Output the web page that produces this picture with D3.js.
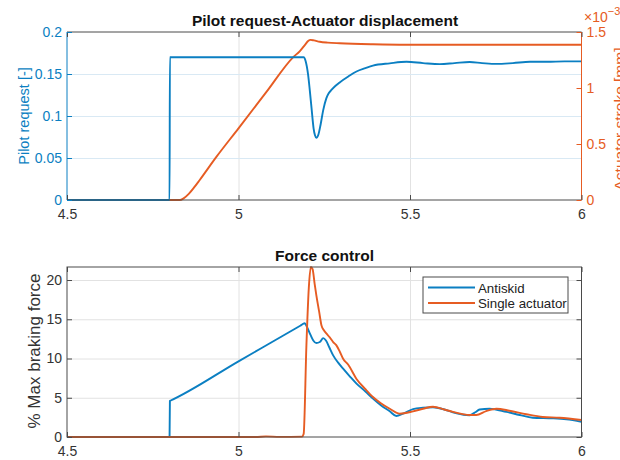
<!DOCTYPE html>
<html><head><meta charset="utf-8">
<script src="https://cdn.jsdelivr.net/npm/d3@7"></script>
<style>
html,body{margin:0;padding:0;background:#fff;}
svg{display:block;font-family:"Liberation Sans",Arial,Helvetica,sans-serif;}
</style></head>
<body>
<svg id="chart" width="620" height="460"></svg>
<script>
// ---------- data ----------
const xTicks = [4.5, 5, 5.5, 6];
const pilotTicks = [0, 0.05, 0.1, 0.15, 0.2];
const strokeTicks = [0, 0.5, 1, 1.5];      // x 10^-3 mm
const forceTicks = [0, 5, 10, 15, 20];

const pilotT = [4.5, 4.799, 4.8, 4.801, 5.189, 5.19, 5.196, 5.203, 5.208, 5.213, 5.219, 5.223, 5.227, 5.233, 5.239, 5.247, 5.256, 5.263, 5.271, 5.283, 5.295, 5.32, 5.344, 5.37, 5.392, 5.441, 5.49, 5.538, 5.587, 5.63, 5.674, 5.71, 5.752, 5.8, 5.85, 5.9, 5.95, 6.0];
const pilotV = [0, 0, 0.17, 0.17, 0.17, 0.17, 0.165, 0.149, 0.13, 0.109, 0.085, 0.077, 0.074, 0.078, 0.089, 0.107, 0.121, 0.127, 0.131, 0.136, 0.140, 0.147, 0.153, 0.157, 0.160, 0.1627, 0.1645, 0.163, 0.1618, 0.163, 0.1642, 0.163, 0.162, 0.163, 0.1645, 0.1645, 0.165, 0.165];

const strokeT = [4.5, 4.829, 4.84, 4.855, 4.87, 4.887, 4.936, 5.0, 5.082, 5.159, 5.179, 5.195, 5.203, 5.21, 5.22, 5.237, 5.26, 5.295, 5.392, 5.49, 6.0];
const strokeV = [0, 0, 0.015, 0.055, 0.11, 0.179, 0.387, 0.64, 0.967, 1.274, 1.33, 1.39, 1.42, 1.43, 1.425, 1.413, 1.405, 1.399, 1.39, 1.386, 1.386];

const series = ["Antiskid", "Single actuator"];

const antiskidT = [4.5, 4.799, 4.8, 4.801, 5.0, 5.18, 5.193, 5.2, 5.21, 5.218, 5.227, 5.237, 5.247, 5.255, 5.265, 5.276, 5.29, 5.305, 5.325, 5.344, 5.37, 5.392, 5.415, 5.441, 5.46, 5.48, 5.509, 5.538, 5.567, 5.6, 5.625, 5.664, 5.674, 5.69, 5.703, 5.732, 5.781, 5.82, 5.858, 5.917, 5.956, 6.0];
const antiskidV = [0, 0, 4.6, 4.62, 9.64, 14.17, 14.5, 14.0, 13.0, 12.3, 11.97, 12.1, 12.6, 12.3, 11.4, 10.4, 9.5, 8.7, 7.7, 6.8, 5.8, 4.9, 4.05, 3.27, 2.68, 2.97, 3.55, 3.73, 3.8, 3.5, 3.14, 2.8, 2.78, 3.15, 3.5, 3.6, 3.2, 2.8, 2.46, 2.38, 2.25, 1.95];

const singleT = [4.5, 5.05, 5.08, 5.12, 5.185, 5.19, 5.198, 5.205, 5.211, 5.216, 5.222, 5.227, 5.235, 5.242, 5.249, 5.256, 5.266, 5.276, 5.285, 5.295, 5.305, 5.32, 5.344, 5.37, 5.392, 5.415, 5.441, 5.47, 5.509, 5.538, 5.567, 5.6, 5.625, 5.674, 5.693, 5.722, 5.752, 5.79, 5.839, 5.887, 5.936, 6.0];
const singleV = [0, 0, 0.08, 0.02, 0.05, 0.4, 11.7, 19.0, 21.66, 21.4, 19.5, 18.05, 16.0, 14.2, 13.6, 13.2, 12.7, 12.1, 11.7, 10.9, 9.97, 9.2, 7.4, 6.1, 5.1, 4.3, 3.6, 2.97, 3.27, 3.6, 3.86, 3.5, 3.2, 2.8, 2.8, 3.3, 3.6, 3.35, 2.9, 2.55, 2.46, 2.17];

// ---------- style ----------
const BLUE = "#0b7fc2", ORANGE = "#e65c23", AXIS = "#4a4a4a", TXT = "#333", GRID = "#e2e2e2", GRIDB = "#d9e9f4";
const FONT = 14, TITLE = 15.5;

const svg = d3.select("#chart");
const L = 67, R = 581.5;
const x1 = d3.scaleLinear().domain([4.5, 6]).range([L, R]);
const top1 = 32, bot1 = 200, top2 = 267, bot2 = 437;
const yPilot = d3.scaleLinear().domain([0, 0.2]).range([bot1, top1]);
const yStroke = d3.scaleLinear().domain([0, 1.5]).range([bot1, top1]);
const yForce = d3.scaleLinear().domain([0, 21.66]).range([bot2, top2]);
const fmt = d => String(d);

function grid(g, scaleX, scaleY, top, bot, colX, colY, yt) {
  g.append("g").attr("transform", `translate(0,${bot})`)
    .call(d3.axisBottom(scaleX).tickValues(xTicks.slice(1, -1)).tickSize(-(bot - top)).tickFormat(""))
    .call(s => s.select(".domain").remove())
    .call(s => s.selectAll("line").attr("stroke", colX).attr("stroke-width", 1));
  g.append("g").attr("transform", `translate(${L},0)`)
    .call(d3.axisLeft(scaleY).tickValues(yt).tickSize(-(R - L)).tickFormat(""))
    .call(s => s.select(".domain").remove())
    .call(s => s.selectAll("line").attr("stroke", colY).attr("stroke-width", 1));
}

function styleAxis(s, col, txtCol) {
  s.select(".domain").remove();
  s.selectAll("line").attr("stroke", col).attr("stroke-width", 1);
  s.selectAll("text").attr("fill", txtCol).attr("font-size", FONT).attr("font-family", null);
}

const zip = (a, b) => a.map((v, i) => [v, b[i]]);
const line = (xs, ys) => d3.line().curve(d3.curveMonotoneX).x(d => xs(d[0])).y(d => ys(d[1]));

// ---------- top panel ----------
const p1 = svg.append("g");
grid(p1, x1, yPilot, top1, bot1, GRID, GRIDB, pilotTicks.slice(1, -1));

p1.append("path").datum(zip(strokeT, strokeV)).attr("d", line(x1, yStroke))
  .attr("fill", "none").attr("stroke", ORANGE).attr("stroke-width", 1.9).attr("stroke-linejoin", "round");
p1.append("path").datum(zip(pilotT, pilotV)).attr("d", line(x1, yPilot))
  .attr("fill", "none").attr("stroke", BLUE).attr("stroke-width", 1.9).attr("stroke-linejoin", "round");

// frame
p1.append("line").attr("x1", L).attr("x2", R).attr("y1", top1).attr("y2", top1).attr("stroke", AXIS);
p1.append("line").attr("x1", L).attr("x2", R).attr("y1", bot1).attr("y2", bot1).attr("stroke", AXIS);
p1.append("line").attr("x1", L).attr("x2", L).attr("y1", top1).attr("y2", bot1).attr("stroke", BLUE);
p1.append("line").attr("x1", R).attr("x2", R).attr("y1", top1).attr("y2", bot1).attr("stroke", ORANGE);

p1.append("g").attr("transform", `translate(0,${bot1})`)
  .call(d3.axisBottom(x1).tickValues(xTicks).tickSize(-5).tickPadding(9).tickFormat(fmt))
  .call(s => styleAxis(s, AXIS, TXT));
p1.append("g").attr("transform", `translate(0,${top1})`)
  .call(d3.axisTop(x1).tickValues(xTicks).tickSize(-5).tickFormat(""))
  .call(s => styleAxis(s, AXIS, TXT));
p1.append("g").attr("transform", `translate(${L},0)`)
  .call(d3.axisLeft(yPilot).tickValues(pilotTicks).tickSize(-5).tickPadding(5).tickFormat(fmt))
  .call(s => styleAxis(s, BLUE, BLUE));
p1.append("g").attr("transform", `translate(${R},0)`)
  .call(d3.axisRight(yStroke).tickValues(strokeTicks).tickSize(-5).tickPadding(5).tickFormat(fmt))
  .call(s => styleAxis(s, ORANGE, ORANGE));

p1.append("text").attr("x", 325).attr("y", 26).attr("text-anchor", "middle")
  .attr("font-weight", "bold").attr("font-size", TITLE).attr("fill", "#111")
  .text("Pilot request-Actuator displacement");
p1.append("text").attr("transform", "translate(29,116) rotate(-90)").attr("text-anchor", "middle")
  .attr("font-size", 14.5).attr("fill", BLUE).text("Pilot request [-]");
p1.append("text").attr("transform", "translate(624.5,119) rotate(-90)").attr("text-anchor", "middle")
  .attr("font-size", 15.5).attr("fill", ORANGE).text("Actuator stroke [mm]");
const exp = p1.append("text").attr("x", 584).attr("y", 22).attr("font-size", FONT).attr("fill", ORANGE);
exp.append("tspan").text("\u00d710");
exp.append("tspan").attr("dy", -7).attr("font-size", 11).text("\u22123");

// ---------- bottom panel ----------
const p2 = svg.append("g");
grid(p2, x1, yForce, top2, bot2, GRID, GRID, forceTicks.slice(1));

const cols = [BLUE, ORANGE];
p2.append("path").datum(zip(antiskidT, antiskidV)).attr("d", line(x1, yForce))
  .attr("fill", "none").attr("stroke", BLUE).attr("stroke-width", 1.9).attr("stroke-linejoin", "round");
p2.append("path").datum(zip(singleT, singleV)).attr("d", line(x1, yForce))
  .attr("fill", "none").attr("stroke", ORANGE).attr("stroke-width", 1.9).attr("stroke-linejoin", "round");

p2.append("rect").attr("x", L).attr("y", top2).attr("width", R - L).attr("height", bot2 - top2)
  .attr("fill", "none").attr("stroke", AXIS);

p2.append("g").attr("transform", `translate(0,${bot2})`)
  .call(d3.axisBottom(x1).tickValues(xTicks).tickSize(-5).tickPadding(9).tickFormat(fmt))
  .call(s => styleAxis(s, AXIS, TXT));
p2.append("g").attr("transform", `translate(0,${top2})`)
  .call(d3.axisTop(x1).tickValues(xTicks).tickSize(-5).tickFormat(""))
  .call(s => styleAxis(s, AXIS, TXT));
p2.append("g").attr("transform", `translate(${L},0)`)
  .call(d3.axisLeft(yForce).tickValues(forceTicks).tickSize(-5).tickPadding(5).tickFormat(fmt))
  .call(s => styleAxis(s, AXIS, TXT));
p2.append("g").attr("transform", `translate(${R},0)`)
  .call(d3.axisRight(yForce).tickValues(forceTicks).tickSize(-5).tickFormat(""))
  .call(s => styleAxis(s, AXIS, TXT));

p2.append("text").attr("x", 324.5).attr("y", 261).attr("text-anchor", "middle")
  .attr("font-weight", "bold").attr("font-size", TITLE).attr("fill", "#111").text("Force control");
p2.append("text").attr("transform", "translate(40,351) rotate(-90)").attr("text-anchor", "middle")
  .attr("font-size", 17).attr("fill", TXT).text("% Max braking force");

// legend
const lg = p2.append("g");
lg.append("rect").attr("x", 423).attr("y", 277).attr("width", 145).attr("height", 36)
  .attr("fill", "#fff").attr("stroke", AXIS);
series.forEach((name, i) => {
  const yy = 287.5 + i * 15.5;
  lg.append("line").attr("x1", 428).attr("x2", 475).attr("y1", yy).attr("y2", yy)
    .attr("stroke", cols[i]).attr("stroke-width", 1.9);
  lg.append("text").attr("x", 478).attr("y", yy + 5).attr("font-size", 13.3).attr("fill", "#222").text(name);
});
</script>
</body></html>
